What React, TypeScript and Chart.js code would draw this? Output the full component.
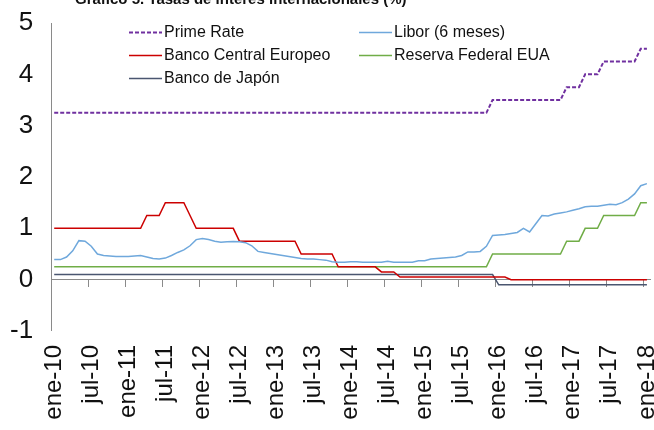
import React, { useEffect, useRef } from "react";
import { Chart, registerables } from "chart.js";

Chart.register(...registerables);

const FONT = "'Liberation Sans', Arial, Helvetica, sans-serif";

// ---- categories / tick labels ----
const monthNames = ["ene", "feb", "mar", "abr", "may", "jun", "jul", "ago", "sep", "oct", "nov", "dic"];
const yearSuffixes = ["10", "11", "12", "13", "14", "15", "16", "17"];
const lastLabel = "ene-18";
const categories: string[] = [
  ...yearSuffixes.flatMap((y) => monthNames.map((m) => `${m}-${y}`)),
  lastLabel,
];
const labelEvery = 6;

const yTicks = { min: -1, max: 5, step: 1 };

const titleText = "Gráfico 5. Tasas de interés internacionales (%)";

// ---- series (monthly, ene-10 .. ene-18) ----
const primeRate = [
  3.25, 3.25, 3.25, 3.25, 3.25, 3.25, 3.25, 3.25, 3.25, 3.25, 3.25, 3.25,
  3.25, 3.25, 3.25, 3.25, 3.25, 3.25, 3.25, 3.25, 3.25, 3.25, 3.25, 3.25,
  3.25, 3.25, 3.25, 3.25, 3.25, 3.25, 3.25, 3.25, 3.25, 3.25, 3.25, 3.25,
  3.25, 3.25, 3.25, 3.25, 3.25, 3.25, 3.25, 3.25, 3.25, 3.25, 3.25, 3.25,
  3.25, 3.25, 3.25, 3.25, 3.25, 3.25, 3.25, 3.25, 3.25, 3.25, 3.25, 3.25,
  3.25, 3.25, 3.25, 3.25, 3.25, 3.25, 3.25, 3.25, 3.25, 3.25, 3.25, 3.5,
  3.5, 3.5, 3.5, 3.5, 3.5, 3.5, 3.5, 3.5, 3.5, 3.5, 3.5, 3.75,
  3.75, 3.75, 4.0, 4.0, 4.0, 4.25, 4.25, 4.25, 4.25, 4.25, 4.25, 4.5,
  4.5,
];

const libor = [
  0.39, 0.39, 0.44, 0.56, 0.76, 0.75, 0.65, 0.5, 0.47, 0.46, 0.45, 0.45,
  0.45, 0.46, 0.47, 0.44, 0.41, 0.4, 0.42, 0.47, 0.53, 0.58, 0.66, 0.78,
  0.8, 0.78, 0.75, 0.73, 0.74, 0.745, 0.74, 0.72, 0.66, 0.55, 0.53, 0.51,
  0.49, 0.47, 0.45, 0.43, 0.41, 0.4, 0.4, 0.39, 0.38, 0.35, 0.34, 0.34,
  0.35, 0.35, 0.34, 0.34, 0.34, 0.34, 0.36, 0.34, 0.34, 0.34, 0.34, 0.37,
  0.37, 0.4, 0.41, 0.42, 0.43, 0.44, 0.47, 0.54, 0.54, 0.55, 0.65, 0.86,
  0.87, 0.88, 0.9, 0.92, 1.0, 0.93, 1.09, 1.25, 1.24, 1.28, 1.3, 1.32,
  1.35, 1.38, 1.42, 1.43, 1.43, 1.45, 1.47, 1.46, 1.5, 1.57, 1.67, 1.83,
  1.87,
];

const bancoCentralEuropeo = [
  1, 1, 1, 1, 1, 1, 1, 1, 1, 1, 1, 1,
  1, 1, 1, 1.25, 1.25, 1.25, 1.5, 1.5, 1.5, 1.5, 1.25, 1,
  1, 1, 1, 1, 1, 1, 0.75, 0.75, 0.75, 0.75, 0.75, 0.75,
  0.75, 0.75, 0.75, 0.75, 0.5, 0.5, 0.5, 0.5, 0.5, 0.5, 0.25, 0.25,
  0.25, 0.25, 0.25, 0.25, 0.25, 0.15, 0.15, 0.15, 0.05, 0.05, 0.05, 0.05,
  0.05, 0.05, 0.05, 0.05, 0.05, 0.05, 0.05, 0.05, 0.05, 0.05, 0.05, 0.05,
  0.05, 0.05, 0, 0, 0, 0, 0, 0, 0, 0, 0, 0,
  0, 0, 0, 0, 0, 0, 0, 0, 0, 0, 0, 0,
  0,
];

const reservaFederal = [
  0.25, 0.25, 0.25, 0.25, 0.25, 0.25, 0.25, 0.25, 0.25, 0.25, 0.25, 0.25,
  0.25, 0.25, 0.25, 0.25, 0.25, 0.25, 0.25, 0.25, 0.25, 0.25, 0.25, 0.25,
  0.25, 0.25, 0.25, 0.25, 0.25, 0.25, 0.25, 0.25, 0.25, 0.25, 0.25, 0.25,
  0.25, 0.25, 0.25, 0.25, 0.25, 0.25, 0.25, 0.25, 0.25, 0.25, 0.25, 0.25,
  0.25, 0.25, 0.25, 0.25, 0.25, 0.25, 0.25, 0.25, 0.25, 0.25, 0.25, 0.25,
  0.25, 0.25, 0.25, 0.25, 0.25, 0.25, 0.25, 0.25, 0.25, 0.25, 0.25, 0.5,
  0.5, 0.5, 0.5, 0.5, 0.5, 0.5, 0.5, 0.5, 0.5, 0.5, 0.5, 0.75,
  0.75, 0.75, 1, 1, 1, 1.25, 1.25, 1.25, 1.25, 1.25, 1.25, 1.5,
  1.5,
];

const bancoDeJapon = [
  0.1, 0.1, 0.1, 0.1, 0.1, 0.1, 0.1, 0.1, 0.1, 0.1, 0.1, 0.1,
  0.1, 0.1, 0.1, 0.1, 0.1, 0.1, 0.1, 0.1, 0.1, 0.1, 0.1, 0.1,
  0.1, 0.1, 0.1, 0.1, 0.1, 0.1, 0.1, 0.1, 0.1, 0.1, 0.1, 0.1,
  0.1, 0.1, 0.1, 0.1, 0.1, 0.1, 0.1, 0.1, 0.1, 0.1, 0.1, 0.1,
  0.1, 0.1, 0.1, 0.1, 0.1, 0.1, 0.1, 0.1, 0.1, 0.1, 0.1, 0.1,
  0.1, 0.1, 0.1, 0.1, 0.1, 0.1, 0.1, 0.1, 0.1, 0.1, 0.1, 0.1,
  -0.1, -0.1, -0.1, -0.1, -0.1, -0.1, -0.1, -0.1, -0.1, -0.1, -0.1, -0.1,
  -0.1, -0.1, -0.1, -0.1, -0.1, -0.1, -0.1, -0.1, -0.1, -0.1, -0.1, -0.1,
  -0.1,
];

const AXIS_COLOR = "#8a8a8a";
const TEXT_COLOR = "#111111";

const titlePlugin = {
  id: "clippedTitle",
  afterDraw(chart: any) {
    const ctx = chart.ctx;
    ctx.save();
    ctx.font = `bold 15px ${FONT}`;
    ctx.fillStyle = TEXT_COLOR;
    ctx.textAlign = "left";
    ctx.textBaseline = "alphabetic";
    ctx.fillText(titleText, 75, 4);
    ctx.restore();
  },
};

const legendPlugin = {
  id: "twoColumnLegend",
  afterDraw(chart: any) {
    const ctx = chart.ctx;
    const colX = [129, 359];
    const rowY = [32, 55, 78];
    const sampleW = 33;
    chart.data.datasets.forEach((ds: any, i: number) => {
      const x = colX[i % 2];
      const y = rowY[Math.floor(i / 2)];
      ctx.save();
      ctx.strokeStyle = ds.borderColor;
      ctx.lineWidth = ds.borderWidth;
      ctx.setLineDash(ds.borderDash || []);
      ctx.beginPath();
      ctx.moveTo(x, y + 0.5);
      ctx.lineTo(x + sampleW, y + 0.5);
      ctx.stroke();
      ctx.setLineDash([]);
      ctx.font = `16px ${FONT}`;
      ctx.fillStyle = TEXT_COLOR;
      ctx.textAlign = "left";
      ctx.textBaseline = "middle";
      ctx.fillText(ds.label, x + sampleW + 2, y + 1);
      ctx.restore();
    });
  },
};

export default function App() {
  const canvasRef = useRef<HTMLCanvasElement | null>(null);

  useEffect(() => {
    if (!canvasRef.current) return;
    const lineBase = { pointRadius: 0, pointHoverRadius: 0, tension: 0, fill: false };
    const chart = new Chart(canvasRef.current, {
      type: "line",
      data: {
        labels: categories,
        datasets: [
          { ...lineBase, label: "Prime Rate", data: primeRate, borderColor: "#7030A0", borderWidth: 2, borderDash: [4, 2] },
          { ...lineBase, label: "Libor (6 meses)", data: libor, borderColor: "#6FA8DC", borderWidth: 1.5 },
          { ...lineBase, label: "Banco Central Europeo", data: bancoCentralEuropeo, borderColor: "#CC0000", borderWidth: 1.5 },
          { ...lineBase, label: "Reserva Federal EUA", data: reservaFederal, borderColor: "#70AD47", borderWidth: 1.5 },
          { ...lineBase, label: "Banco de Japón", data: bancoDeJapon, borderColor: "#4A5670", borderWidth: 1.5 },
        ],
      } as any,
      options: {
        responsive: false,
        animation: false,
        devicePixelRatio: 1,
        layout: { padding: { left: 0, top: 23, right: 40, bottom: 10.3 } },
        plugins: {
          legend: { display: false },
          title: { display: false },
          tooltip: { enabled: false },
        },
        scales: {
          x: {
            type: "category",
            position: "bottom",
            offset: true,
            grid: {
              display: true,
              drawOnChartArea: false,
              drawTicks: true,
              tickLength: 14,
              color: "rgba(0,0,0,0)",
            },
            border: { display: false },
            ticks: {
              autoSkip: false,
              minRotation: 90,
              maxRotation: 90,
              padding: 0,
              color: TEXT_COLOR,
              font: { family: FONT, size: 24, lineHeight: 1 },
              callback: (_v: any, i: number) => (i % labelEvery === 0 ? categories[i] : ""),
            },
          },
          x2: {
            type: "category",
            position: { y: 0 },
            offset: true,
            grid: {
              offset: true,
              drawOnChartArea: false,
              drawTicks: true,
              tickLength: 7,
              color: (c: any) => (typeof c.index === "number" && c.index % labelEvery === 0 ? AXIS_COLOR : "rgba(0,0,0,0)"),
            },
            border: { display: true, color: AXIS_COLOR, width: 1 },
            ticks: { display: false, autoSkip: false },
          },
          y: {
            min: yTicks.min,
            max: yTicks.max,
            grid: { display: false, drawTicks: true, tickLength: 8 },
            border: { display: true, color: AXIS_COLOR, width: 1 },
            ticks: {
              stepSize: yTicks.step,
              padding: 10,
              color: TEXT_COLOR,
              font: { family: FONT, size: 26, lineHeight: 0.8 },
            },
          },
        },
      } as any,
      plugins: [titlePlugin, legendPlugin],
    });
    return () => chart.destroy();
  }, []);

  return (
    <div style={{ position: "fixed", left: 0, top: 0, width: 654, height: 430, overflow: "hidden", background: "#fff" }}>
      <canvas ref={canvasRef} width={690} height={430} style={{ display: "block", width: 690, height: 430 }} />
    </div>
  );
}
